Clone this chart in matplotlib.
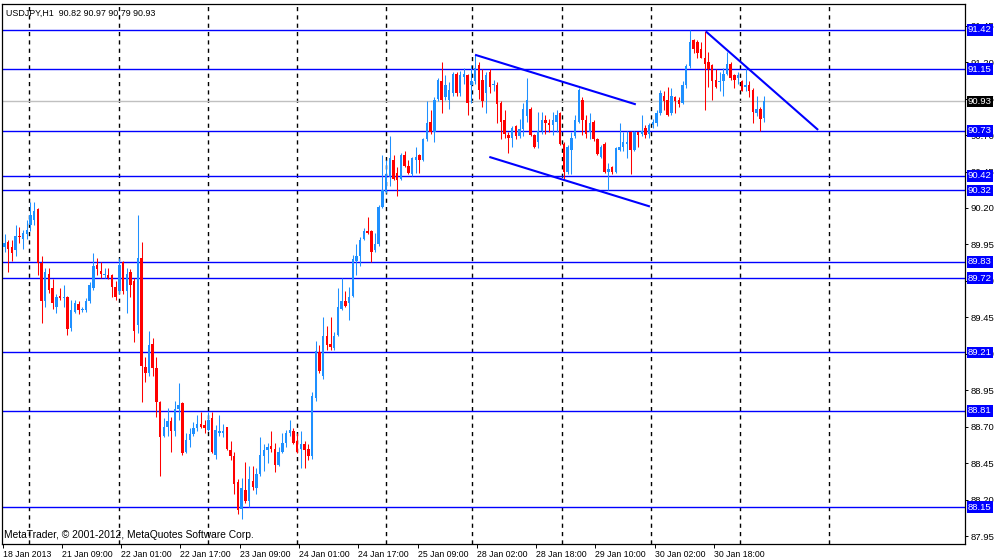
import matplotlib
matplotlib.use('Agg')
import matplotlib.pyplot as plt
import matplotlib.transforms as mtransforms
import numpy as np

# ---------------- data (USDJPY H1) ----------------
opens = [89.93, 89.97, 89.93, 89.91, 90.01, 89.99, 90.02, 90.08, 90.12, 90.19,
         89.82, 89.56, 89.75, 89.65, 89.52, 89.60, 89.58, 89.59, 89.38, 89.49,
         89.54, 89.50, 89.50, 89.56, 89.65, 89.81, 89.77, 89.74, 89.74, 89.74,
         89.66, 89.63, 89.83, 89.63, 89.76, 89.70, 89.40, 89.86, 89.11, 89.07,
         89.27, 89.10, 88.87, 88.64, 88.70, 88.74, 88.67, 88.82, 88.86, 88.53,
         88.61, 88.65, 88.69, 88.72, 88.71, 88.68, 88.76, 88.51, 88.66, 88.66,
         88.70, 88.54, 88.50, 88.32, 88.14, 88.27, 88.19, 88.33, 88.28, 88.38,
         88.50, 88.54, 88.57, 88.55, 88.44, 88.53, 88.59, 88.66, 88.67, 88.60,
         88.55, 88.58, 88.55, 88.50, 88.90, 89.21, 89.05, 89.32, 89.27, 89.24,
         89.33, 89.51, 89.56, 89.55, 89.60, 89.84, 89.87, 89.99, 90.04, 90.04,
         89.91, 89.95, 90.21, 90.31, 90.41, 90.53, 90.44, 90.40, 90.56, 90.49,
         90.43, 90.53, 90.56, 90.53, 90.67, 90.79, 90.72, 90.95, 91.07, 90.96,
         90.94, 90.99, 91.12, 90.99, 91.10, 91.11, 91.04, 91.07, 91.18, 91.08,
         90.99, 91.13, 91.04, 91.04, 90.92, 90.80, 90.70, 90.68, 90.76, 90.69,
         90.74, 90.83, 90.88, 90.70, 90.65, 90.73, 90.80, 90.78, 90.77, 90.79,
         90.85, 90.64, 90.45, 90.60, 90.69, 90.79, 90.94, 90.80, 90.72, 90.79,
         90.67, 90.55, 90.64, 90.45, 90.48, 90.45, 90.60, 90.62, 90.64, 90.72,
         90.60, 90.72, 90.71, 90.75, 90.71, 90.77, 90.78, 90.85, 90.97, 90.94,
         90.85, 90.96, 90.94, 90.92, 91.04, 91.17, 91.35, 91.34, 91.29, 91.23,
         91.20, 91.18, 91.08, 91.06, 91.07, 91.12, 91.19, 91.11, 91.09, 91.07,
         91.03, 91.04, 91.01, 90.85, 90.88, 90.82]
highs = [90.02, 89.98, 89.98, 90.08, 90.07, 90.05, 90.12, 90.24, 90.24, 90.20,
         89.87, 89.79, 89.79, 89.71, 89.61, 89.65, 89.67, 89.60, 89.57, 89.57,
         89.56, 89.52, 89.58, 89.69, 89.89, 89.86, 89.83, 89.79, 89.79, 89.75,
         89.70, 89.86, 89.84, 89.79, 89.78, 89.72, 90.15, 89.97, 89.18, 89.36,
         89.31, 89.18, 88.88, 88.76, 88.83, 88.77, 88.88, 89.00, 88.87, 88.66,
         88.69, 88.73, 88.78, 88.80, 88.75, 88.80, 88.80, 88.71, 88.78, 88.72,
         88.70, 88.60, 88.53, 88.34, 88.35, 88.46, 88.43, 88.43, 88.42, 88.63,
         88.58, 88.59, 88.67, 88.59, 88.56, 88.66, 88.68, 88.75, 88.69, 88.66,
         88.67, 88.60, 88.58, 88.94, 89.29, 89.26, 89.45, 89.39, 89.45, 89.35,
         89.65, 89.72, 89.63, 89.66, 89.88, 89.95, 90.00, 90.06, 90.14, 90.05,
         90.03, 90.22, 90.56, 90.53, 90.69, 90.56, 90.48, 90.58, 90.59, 90.53,
         90.55, 90.62, 90.57, 90.68, 90.93, 90.87, 90.96, 91.09, 91.20, 91.11,
         91.06, 91.13, 91.13, 91.14, 91.16, 91.12, 91.18, 91.25, 91.20, 91.15,
         91.13, 91.15, 91.08, 91.06, 90.93, 90.87, 90.72, 90.76, 90.77, 90.81,
         90.92, 91.09, 90.89, 90.71, 90.86, 90.86, 90.84, 90.81, 90.86, 90.87,
         90.86, 90.65, 90.63, 90.72, 90.84, 91.02, 90.96, 90.84, 90.85, 90.80,
         90.68, 90.63, 90.65, 90.51, 90.49, 90.62, 90.78, 90.72, 90.73, 90.73,
         90.73, 90.72, 90.84, 90.77, 90.78, 90.81, 90.87, 91.01, 91.00, 91.03,
         91.02, 90.97, 90.96, 91.07, 91.19, 91.42, 91.36, 91.35, 91.34, 91.41,
         91.27, 91.19, 91.15, 91.13, 91.16, 91.27, 91.20, 91.12, 91.13, 91.08,
         91.16, 91.07, 91.02, 90.97, 90.89, 90.97]
lows = [89.90, 89.76, 89.84, 89.87, 89.96, 89.92, 89.99, 90.04, 90.08, 89.74,
        89.41, 89.52, 89.62, 89.51, 89.48, 89.57, 89.52, 89.33, 89.36, 89.48,
        89.47, 89.49, 89.49, 89.55, 89.64, 89.74, 89.72, 89.72, 89.71, 89.59,
        89.57, 89.61, 89.61, 89.48, 89.59, 89.28, 89.34, 88.87, 89.01, 89.05,
        89.05, 88.77, 88.36, 88.63, 88.64, 88.53, 88.64, 88.75, 88.51, 88.52,
        88.56, 88.64, 88.67, 88.69, 88.66, 88.67, 88.52, 88.48, 88.64, 88.63,
        88.54, 88.47, 88.24, 88.10, 88.07, 88.18, 88.15, 88.27, 88.24, 88.36,
        88.40, 88.45, 88.53, 88.39, 88.43, 88.52, 88.56, 88.64, 88.58, 88.52,
        88.42, 88.42, 88.47, 88.48, 88.88, 89.07, 89.03, 89.23, 89.23, 89.23,
        89.32, 89.50, 89.52, 89.43, 89.59, 89.74, 89.80, 89.98, 90.02, 89.83,
        89.90, 89.94, 90.20, 90.30, 90.35, 90.39, 90.28, 90.39, 90.48, 90.43,
        90.42, 90.44, 90.44, 90.52, 90.66, 90.71, 90.65, 90.93, 90.85, 90.94,
        90.88, 90.97, 90.97, 90.97, 91.05, 90.84, 90.92, 91.05, 90.95, 90.89,
        90.85, 90.99, 91.00, 90.78, 90.67, 90.68, 90.58, 90.62, 90.67, 90.68,
        90.69, 90.79, 90.69, 90.61, 90.61, 90.71, 90.71, 90.72, 90.70, 90.72,
        90.63, 90.40, 90.43, 90.43, 90.68, 90.78, 90.70, 90.68, 90.67, 90.66,
        90.56, 90.54, 90.44, 90.32, 90.43, 90.44, 90.59, 90.59, 90.54, 90.43,
        90.59, 90.62, 90.69, 90.68, 90.68, 90.75, 90.76, 90.84, 90.87, 90.83,
        90.84, 90.85, 90.89, 90.91, 91.02, 91.16, 91.26, 91.23, 91.23, 90.87,
        91.03, 90.94, 91.02, 91.00, 90.97, 91.11, 91.08, 91.02, 91.05, 91.00,
        91.00, 90.96, 90.78, 90.83, 90.73, 90.79]
closes = [89.96, 89.92, 89.89, 90.01, 90.00, 90.03, 90.05, 90.15, 90.18, 89.82,
          89.56, 89.76, 89.64, 89.55, 89.59, 89.58, 89.59, 89.37, 89.50, 89.55,
          89.50, 89.51, 89.56, 89.67, 89.80, 89.78, 89.75, 89.75, 89.72, 89.66,
          89.59, 89.81, 89.63, 89.75, 89.67, 89.36, 89.86, 89.12, 89.07, 89.26,
          89.10, 88.87, 88.63, 88.70, 88.74, 88.67, 88.82, 88.85, 88.52, 88.61,
          88.65, 88.69, 88.72, 88.70, 88.69, 88.75, 88.53, 88.68, 88.67, 88.67,
          88.55, 88.50, 88.31, 88.13, 88.28, 88.19, 88.34, 88.29, 88.38, 88.51,
          88.54, 88.56, 88.55, 88.44, 88.53, 88.59, 88.66, 88.68, 88.59, 88.53,
          88.58, 88.54, 88.50, 88.91, 89.22, 89.08, 89.32, 89.26, 89.25, 89.32,
          89.52, 89.56, 89.53, 89.59, 89.85, 89.87, 89.98, 90.04, 90.03, 89.90,
          89.95, 90.21, 90.32, 90.43, 90.54, 90.40, 90.39, 90.56, 90.49, 90.44,
          90.54, 90.55, 90.53, 90.67, 90.78, 90.72, 90.94, 91.08, 90.94, 91.04,
          91.01, 91.12, 90.99, 91.11, 91.12, 90.92, 91.07, 91.16, 91.01, 90.93,
          91.11, 91.03, 91.05, 90.91, 90.79, 90.71, 90.68, 90.75, 90.69, 90.74,
          90.88, 90.94, 90.70, 90.62, 90.73, 90.80, 90.78, 90.77, 90.80, 90.84,
          90.64, 90.45, 90.62, 90.68, 90.80, 91.01, 90.80, 90.71, 90.78, 90.67,
          90.57, 90.62, 90.45, 90.47, 90.45, 90.61, 90.62, 90.65, 90.65, 90.60,
          90.72, 90.70, 90.73, 90.70, 90.77, 90.79, 90.85, 90.99, 90.93, 90.84,
          90.97, 90.93, 90.91, 91.04, 91.17, 91.34, 91.29, 91.26, 91.23, 91.19,
          91.15, 91.07, 91.03, 91.07, 91.12, 91.19, 91.09, 91.08, 91.11, 91.00,
          91.04, 91.00, 90.86, 90.88, 90.81, 90.93]

level_prices = [91.42, 91.15, 90.73, 90.42, 90.32, 89.83, 89.72, 89.21, 88.81, 88.15]
bid_price = 90.93

# trend lines: (bar index, price) anchor points
trend_x0 = [127.0, 130.85, 189.3]
trend_p0 = [91.25, 90.55, 91.41]
trend_x1 = [170.4, 174.2, 219.6]
trend_p1 = [90.91, 90.21, 90.735]

day_separators = [6.7, 30.8, 54.9, 79.0, 103.0, 126.1, 150.4, 174.4, 198.4, 222.6]

time_tick_bars = [-0.5, 15.5, 31.5, 47.5, 63.5, 79.5, 95.5, 111.5, 127.5,
                  143.5, 159.5, 175.5, 191.5]
time_tick_labels = ['18 Jan 2013', '21 Jan 09:00', '22 Jan 01:00', '22 Jan 17:00',
                    '23 Jan 09:00', '24 Jan 01:00', '24 Jan 17:00', '25 Jan 09:00',
                    '28 Jan 02:00', '28 Jan 18:00', '29 Jan 10:00', '30 Jan 02:00',
                    '30 Jan 18:00']
price_ticks = [87.95, 88.20, 88.45, 88.70, 88.95, 89.20, 89.45, 89.70,
               89.95, 90.20, 90.45, 90.70, 90.95, 91.20, 91.45]

header = 'USDJPY,H1  90.82 90.97 90.79 90.93'
copyright_text = 'MetaTrader, \u00a9 2001-2012, MetaQuotes Software Corp.'

# ---------------- drawing ----------------
plt.rcParams['font.family'] = ['Liberation Sans', 'DejaVu Sans']
FS_X = 6.3
FS_Y = 6.8

fig = plt.figure(figsize=(10, 5.6), dpi=100)
fig.patch.set_facecolor('white')
ax = fig.add_axes([0.002, 16 / 560, 0.963, 540 / 560])
ax.set_facecolor('white')

o = np.array(opens); h = np.array(highs); l = np.array(lows); c = np.array(closes)
x = np.arange(len(o))
up = c >= o
cols = np.where(up, '#1E90FF', '#FF0000')

# day separators
for g in day_separators:
    ax.axvline(g, color='black', lw=1.0, ls=(0, (3, 3)), zorder=1)

# horizontal levels
for p in level_prices:
    ax.axhline(p, color='#0000FF', lw=1.0, zorder=2)
ax.axhline(bid_price, color='#C0C0C0', lw=1.0, zorder=1.5)

# candles
ax.vlines(x, l, h, colors=cols, lw=0.75, zorder=3)
body_bottom = np.minimum(o, c)
body_height = np.maximum(np.abs(c - o), 0.005)
ax.bar(x, body_height, bottom=body_bottom, width=0.66, color=cols, lw=0, zorder=4)

# trend lines
for xa, pa, xb, pb in zip(trend_x0, trend_p0, trend_x1, trend_p1):
    ax.plot([xa, xb], [pa, pb], color='#0000FF', lw=1.5, zorder=5,
            solid_capstyle='butt')

ax.set_xlim(-0.675, 259.24)
ax.set_ylim(87.897, 91.598)

# axes
for s in ax.spines.values():
    s.set_color('black'); s.set_linewidth(0.9)
ax.yaxis.tick_right()
ax.set_yticks(price_ticks)
ax.set_yticklabels(['%.2f' % t for t in price_ticks])
ax.tick_params(axis='y', direction='out', length=2.2, width=0.7, pad=1.5,
               labelsize=FS_Y, colors='black')
ax.set_xticks(time_tick_bars)
ax.set_xticklabels(time_tick_labels, ha='left')
ax.tick_params(axis='x', direction='out', length=3, width=0.7, pad=1.5,
               labelsize=FS_X, colors='black')

# price labels on right axis (drawn over the tick labels, as in the terminal)
blend = mtransforms.blended_transform_factory(ax.transAxes, ax.transData)
for p in level_prices:
    ax.text(1.0031, p, '%.2f' % p, transform=blend, ha='left', va='center',
            fontsize=FS_Y, color='white', clip_on=False, zorder=10,
            bbox=dict(boxstyle='square,pad=0.15', fc='#0000FF', ec='none'))
ax.text(1.0031, bid_price, '%.2f' % bid_price, transform=blend, ha='left',
        va='center', fontsize=FS_Y, color='white', clip_on=False, zorder=10,
        bbox=dict(boxstyle='square,pad=0.15', fc='black', ec='none'))

ax.text(0.004, 0.991, header, transform=ax.transAxes, ha='left', va='top',
        fontsize=6.4, color='black', zorder=10)
ax.text(0.002, 0.008, copyright_text, transform=ax.transAxes, ha='left',
        va='bottom', fontsize=7.4, color='black', zorder=10)

fig.savefig('out.png', dpi=100, facecolor='white')
